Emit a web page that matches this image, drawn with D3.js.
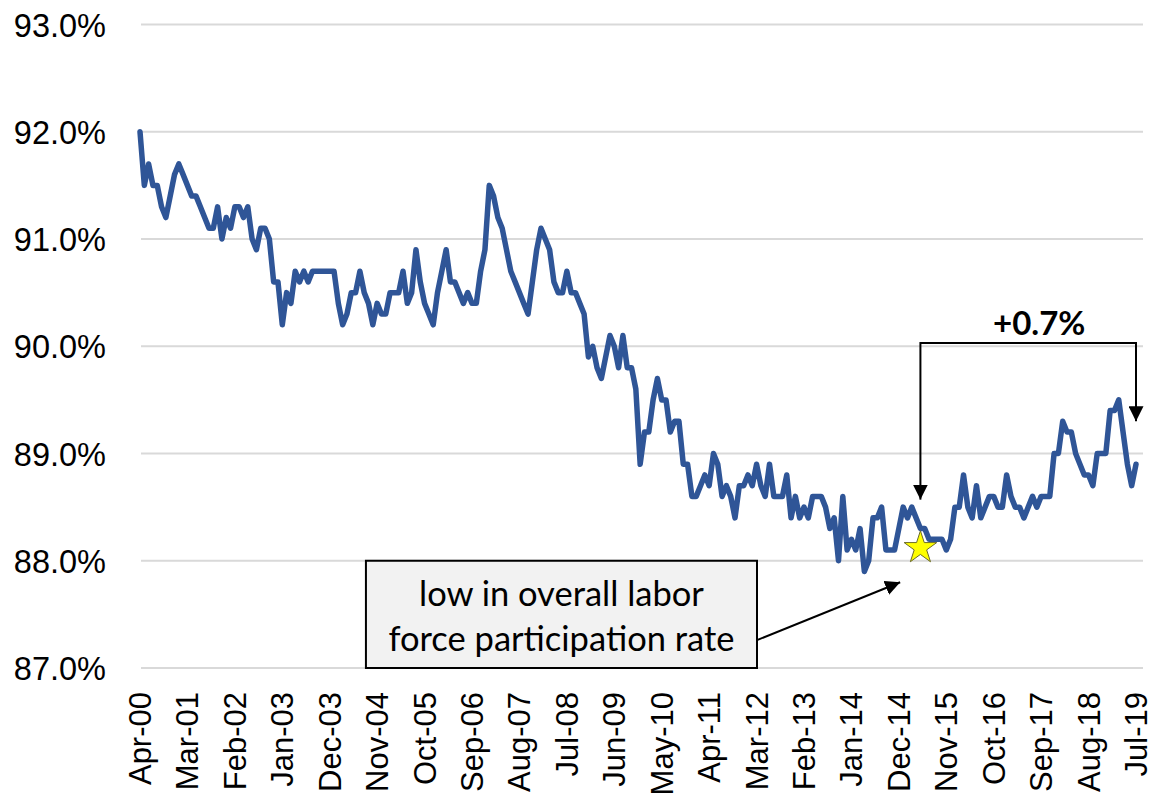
<!DOCTYPE html>
<html>
<head>
<meta charset="utf-8">
<script src="https://cdn.jsdelivr.net/npm/d3@7"></script>
<style>
  html, body { margin: 0; padding: 0; background: #ffffff; }
  svg { display: block; }
</style>
</head>
<body>
<div id="chart"></div>
<script>
// Monthly ratio, Apr 2000 – Jul 2019 (percent)
const firstMonth = new Date(2000, 3, 1);
const lastMonth = new Date(2019, 6, 1);
const rateValues = [
  92.0, 91.5, 91.7, 91.5, 91.5, 91.3, 91.2, 91.4, 91.6, 91.7, 91.6, 91.5,
  91.4, 91.4, 91.3, 91.2, 91.1, 91.1, 91.3, 91.0, 91.2, 91.1, 91.3, 91.3,
  91.2, 91.3, 91.0, 90.9, 91.1, 91.1, 91.0, 90.6, 90.6, 90.2, 90.5, 90.4,
  90.7, 90.6, 90.7, 90.6, 90.7, 90.7, 90.7, 90.7, 90.7, 90.7, 90.4, 90.2,
  90.3, 90.5, 90.5, 90.7, 90.5, 90.4, 90.2, 90.4, 90.3, 90.3, 90.5, 90.5,
  90.5, 90.7, 90.4, 90.5, 90.9, 90.6, 90.4, 90.3, 90.2, 90.5, 90.7, 90.9,
  90.6, 90.6, 90.5, 90.4, 90.5, 90.4, 90.4, 90.7, 90.9, 91.5, 91.4, 91.2,
  91.1, 90.9, 90.7, 90.6, 90.5, 90.4, 90.3, 90.6, 90.9, 91.1, 91.0, 90.9,
  90.6, 90.5, 90.5, 90.7, 90.5, 90.5, 90.4, 90.3, 89.9, 90.0, 89.8, 89.7,
  89.9, 90.1, 90.0, 89.8, 90.1, 89.8, 89.8, 89.6, 88.9, 89.2, 89.2, 89.5,
  89.7, 89.5, 89.5, 89.2, 89.3, 89.3, 88.9, 88.9, 88.6, 88.6, 88.7, 88.8,
  88.7, 89.0, 88.9, 88.6, 88.7, 88.6, 88.4, 88.7, 88.7, 88.8, 88.7, 88.9,
  88.7, 88.6, 88.9, 88.6, 88.6, 88.6, 88.8, 88.4, 88.6, 88.4, 88.5, 88.4,
  88.6, 88.6, 88.6, 88.5, 88.3, 88.4, 88.0, 88.6, 88.1, 88.2, 88.1, 88.3,
  87.9, 88.0, 88.4, 88.4, 88.5, 88.1, 88.1, 88.1, 88.3, 88.5, 88.4, 88.5,
  88.4, 88.3, 88.3, 88.2, 88.2, 88.2, 88.2, 88.1, 88.2, 88.5, 88.5, 88.8,
  88.5, 88.4, 88.7, 88.4, 88.5, 88.6, 88.6, 88.5, 88.5, 88.8, 88.6, 88.5,
  88.5, 88.4, 88.5, 88.6, 88.5, 88.6, 88.6, 88.6, 89.0, 89.0, 89.3, 89.2,
  89.2, 89.0, 88.9, 88.8, 88.8, 88.7, 89.0, 89.0, 89.0, 89.4, 89.4, 89.5,
  89.2, 88.9, 88.7, 88.9
];

// Axis ticks
const yTicks = [87, 88, 89, 90, 91, 92, 93];
const xTickStep = 11; // one label every 11 months

// Annotations
const noteLines = ["low in overall labor", "force participation rate"];
const lowMonthIndex = 181;
const lowMarkerValue = 88.12;
const changeLabel = "+0.7%";
const changeStartValue = 88.57;   // arrow tip at the low
const changeEndValue = 89.3;      // arrow tip at the latest month
const bracketValue = 90.03;

const W = 1150, H = 805;
const months = d3.timeMonth.range(firstMonth, d3.timeMonth.offset(lastMonth, 1));
const fmtMonth = d3.timeFormat("%b-%y");
const series = months.map((m, i) => ({ i, month: m, value: rateValues[i] }));

const svg = d3.select("#chart").append("svg")
  .attr("width", W).attr("height", H);

const x = d3.scaleLinear().domain([0, months.length - 1]).range([140, 1136]);
const y = d3.scaleLinear().domain([87, 93]).range([668, 24.5]);

// Horizontal gridlines
svg.append("g")
  .selectAll("line")
  .data(yTicks)
  .join("line")
  .attr("x1", 141).attr("x2", 1143)
  .attr("y1", d => y(d)).attr("y2", d => y(d))
  .attr("stroke", "#d9d9d9").attr("stroke-width", 2);

// Y axis labels
const yAxis = d3.axisLeft(y).tickValues(yTicks)
  .tickFormat(d => d3.format(".1f")(d) + "%").tickSize(0).tickPadding(0);
svg.append("g")
  .attr("transform", "translate(106,0)")
  .call(yAxis)
  .call(g => g.select(".domain").remove())
  .call(g => g.selectAll("text")
    .attr("font-family", "'Liberation Sans', Arial, sans-serif")
    .attr("font-size", 32.5).attr("fill", "#000").attr("dy", "0.36em"));

// X axis labels (rotated)
const xTickIdx = d3.range(0, months.length, xTickStep);
const xAxis = d3.axisBottom(x).tickValues(xTickIdx)
  .tickFormat(i => fmtMonth(months[i])).tickSize(0).tickPadding(0);
svg.append("g")
  .attr("transform", "translate(0,692)")
  .call(xAxis)
  .call(g => g.select(".domain").remove())
  .call(g => g.selectAll("text")
    .attr("font-family", "'Liberation Sans', Arial, sans-serif")
    .attr("font-size", 31).attr("fill", "#000")
    .attr("text-anchor", "end")
    .attr("transform", "rotate(-90)")
    .attr("x", 0).attr("y", 0).attr("dy", "0.34em"));

// Data line
const line = d3.line().x(d => x(d.i)).y(d => y(d.value));
svg.append("path")
  .datum(series)
  .attr("d", line)
  .attr("fill", "none")
  .attr("stroke", "#2F5597")
  .attr("stroke-width", 5.5)
  .attr("stroke-linejoin", "round")
  .attr("stroke-linecap", "round");

// Arrowhead marker
const defs = svg.append("defs");
defs.append("marker")
  .attr("id", "arrowHead")
  .attr("viewBox", "0 0 10 10")
  .attr("refX", 10).attr("refY", 5)
  .attr("markerUnits", "userSpaceOnUse")
  .attr("markerWidth", 15).attr("markerHeight", 15)
  .attr("orient", "auto")
  .append("path").attr("d", "M0,0 L10,5 L0,10 Z").attr("fill", "#000");

// Note box
const boxX0 = x(52.4), boxX1 = x(143.1);
const boxY0 = y(88.0), boxY1 = y(87.0);
svg.append("rect")
  .attr("x", boxX0).attr("y", boxY0)
  .attr("width", boxX1 - boxX0).attr("height", boxY1 - boxY0)
  .attr("fill", "#f2f2f2").attr("stroke", "#000").attr("stroke-width", 2);
svg.append("g").selectAll("text")
  .data(noteLines)
  .join("text")
  .attr("x", (boxX0 + boxX1) / 2)
  .attr("y", (d, k) => boxY0 + 45 + k * 45)
  .attr("text-anchor", "middle")
  .attr("font-family", "Lato, 'Open Sans', sans-serif")
  .attr("font-size", 34.5).attr("fill", "#000")
  .text(d => d);

// Connector from box to the low
svg.append("line")
  .attr("x1", boxX1).attr("y1", y(87.26))
  .attr("x2", x(176.3)).attr("y2", y(87.8))
  .attr("stroke", "#000").attr("stroke-width", 2)
  .attr("marker-end", "url(#arrowHead)");

// Star at the low
const star = d3.symbol().type(d3.symbolStar).size(330);
svg.append("path")
  .attr("d", star())
  .attr("transform", `translate(${x(lowMonthIndex)},${y(lowMarkerValue)})`)
  .attr("fill", "#ffff00").attr("stroke", "#6b6b2a").attr("stroke-width", 1);

// Change bracket
const lastIdx = months.length - 1;
const bx0 = x(lowMonthIndex), bx1 = x(lastIdx);
svg.append("path")
  .attr("d", `M${bx0},${y(bracketValue)} H${bx1}`)
  .attr("fill", "none").attr("stroke", "#000").attr("stroke-width", 2);
svg.append("line")
  .attr("x1", bx0).attr("y1", y(bracketValue) - 1)
  .attr("x2", bx0).attr("y2", y(changeStartValue))
  .attr("stroke", "#000").attr("stroke-width", 2)
  .attr("marker-end", "url(#arrowHead)");
svg.append("line")
  .attr("x1", bx1).attr("y1", y(bracketValue) - 1)
  .attr("x2", bx1).attr("y2", y(changeEndValue))
  .attr("stroke", "#000").attr("stroke-width", 2)
  .attr("marker-end", "url(#arrowHead)");
svg.append("text")
  .attr("x", (bx0 + bx1) / 2 + 11)
  .attr("y", y(bracketValue) - 8)
  .attr("text-anchor", "middle")
  .attr("font-family", "Lato, 'Open Sans', sans-serif")
  .attr("font-weight", "bold")
  .attr("font-size", 33).attr("fill", "#000")
  .text(changeLabel);
</script>
</body>
</html>
